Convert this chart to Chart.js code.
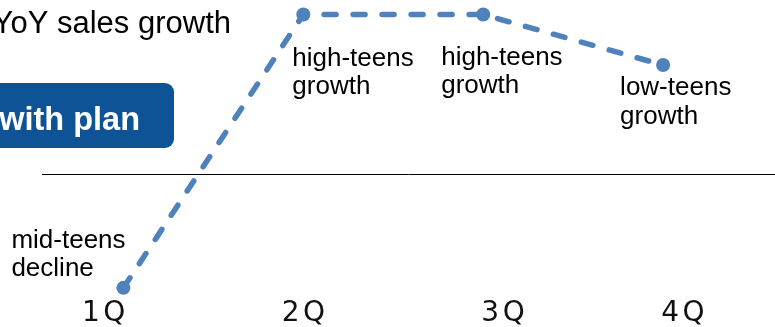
<!DOCTYPE html>
<html>
<head>
<meta charset="utf-8">
<script src="https://cdn.jsdelivr.net/npm/chart.js@4/dist/chart.umd.min.js"></script>
<style>
    html, body { margin: 0; padding: 0; background: #ffffff; }
    #wrap { width: 775px; height: 327px; }
</style>
</head>
<body>
<div id="wrap"><canvas id="myChart" width="775" height="327"></canvas></div>
<script>
const quarters = ['1Q', '2Q', '3Q', '4Q'];
const growth = [-12.2, 17, 17, 11.6]; // YoY sales growth, %
const notes = [
    ['mid-teens', 'decline'],
    ['high-teens', 'growth'],
    ['high-teens', 'growth'],
    ['low-teens', 'growth']
];
const titleText = 'YoY sales growth';
const badgeText = 'with plan';

// where each note sits relative to its point (left edge, first baseline)
const noteOffsets = [[-112, -40], [-11, 51], [-42, 50], [-43, 30]];
// quarter labels are not exactly under the points
const labelNudge = [-0.1, 0.01, 0.12, 0.12];

const textFont = '"Liberation Sans", Arial, sans-serif';
const lineBlue = '#4f81bd';

const slidePlugin = {
    id: 'slide',
    beforeDraw: function (chart) {
        const ctx = chart.ctx;
        ctx.save();
        // headline, runs off the left edge
        ctx.fillStyle = '#000000';
        ctx.font = '31px ' + textFont;
        ctx.textAlign = 'right';
        ctx.textBaseline = 'alphabetic';
        ctx.fillText(titleText, 231, 33);

        // blue badge
        ctx.fillStyle = '#0e5395';
        ctx.beginPath();
        ctx.roundRect(-20, 83, 194, 65, 9);
        ctx.fill();
        ctx.fillStyle = '#ffffff';
        ctx.font = 'bold 32.5px ' + textFont;
        ctx.fillText(badgeText, 140, 130);

        // zero line
        const y0 = Math.round(chart.scales.y.getPixelForValue(0)) + 0.5;
        ctx.strokeStyle = '#000000';
        ctx.lineWidth = 1;
        ctx.beginPath();
        ctx.moveTo(42, y0);
        ctx.lineTo(chart.chartArea.right, y0);
        ctx.stroke();
        ctx.restore();

        // a little tracking for the quarter labels
        ctx.letterSpacing = '3.5px';
    },
    beforeDatasetsDraw: function (chart) {
        chart.ctx.letterSpacing = '0px';
    },
    afterDatasetsDraw: function (chart) {
        const ctx = chart.ctx;
        const points = chart.getDatasetMeta(0).data;
        ctx.save();
        ctx.fillStyle = '#000000';
        ctx.font = '26px ' + textFont;
        ctx.textAlign = 'left';
        ctx.textBaseline = 'alphabetic';
        notes.forEach((lines, i) => {
            const x = points[i].x + noteOffsets[i][0];
            const y = points[i].y + noteOffsets[i][1];
            lines.forEach((line, j) => {
                ctx.fillText(line, x, y + j * 28.5);
            });
        });
        ctx.restore();
    }
};

const ctx = document.getElementById('myChart');
new Chart(ctx, {
    type: 'line',
    data: {
        datasets: [{
            label: 'YoY sales growth',
            data: growth.map((v, i) => ({ x: i, y: v })),
            borderColor: lineBlue,
            backgroundColor: lineBlue,
            borderWidth: 5.5,
            borderDash: [12, 17],
            borderCapStyle: 'round',
            pointRadius: 7,
            pointBorderWidth: 0,
            pointBackgroundColor: lineBlue,
            tension: 0,
            clip: false
        }]
    },
    options: {
        responsive: false,
        animation: false,
        devicePixelRatio: 1,
        layout: { padding: { top: 0, left: 0, right: 0, bottom: -4 }, autoPadding: false },
        plugins: {
            legend: { display: false },
            tooltip: { enabled: false }
        },
        scales: {
            x: {
                type: 'linear',
                min: -0.686,
                max: 3.622,
                grid: { display: false, drawTicks: false },
                border: { display: false },
                afterBuildTicks: function (axis) {
                    axis.ticks = quarters.map((q, i) => ({ value: i + labelNudge[i] }));
                },
                ticks: {
                    autoSkip: false,
                    maxRotation: 0,
                    padding: 0,
                    color: '#111111',
                    font: { family: '"DejaVu Sans"', size: 28, lineHeight: 1.2 },
                    callback: function (value, index) {
                        return quarters[index];
                    }
                }
            },
            y: {
                display: false,
                min: -13.22,
                max: 18.55
            }
        }
    },
    plugins: [slidePlugin]
});
</script>
</body>
</html>
